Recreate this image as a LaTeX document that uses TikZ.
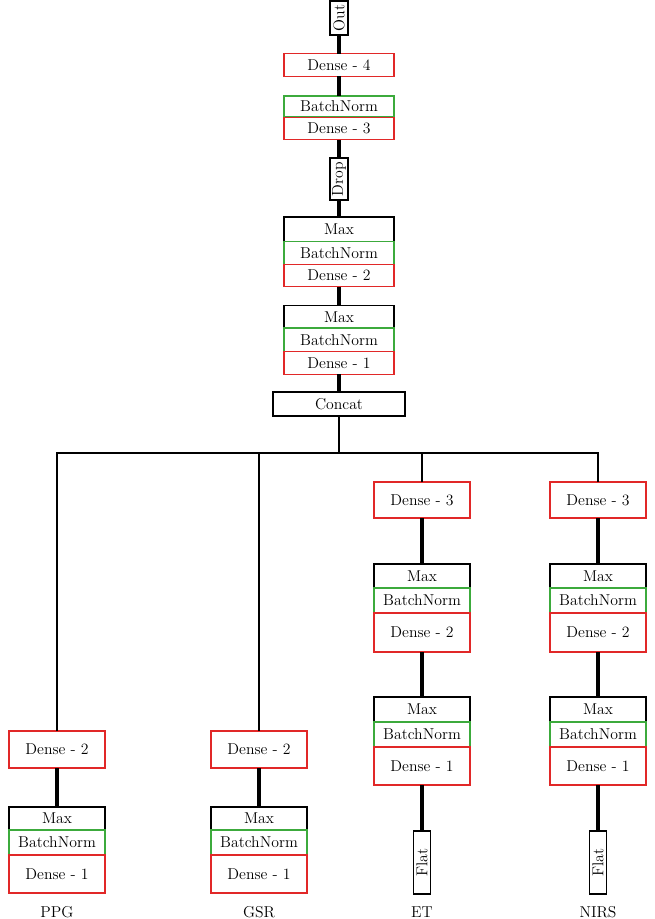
\documentclass[tikz,border=0pt]{standalone}
\usepackage{xcolor,tikz}
\usetikzlibrary{positioning}
\definecolor{dnred}{RGB}{225,40,40}
\definecolor{bngreen}{RGB}{60,170,60}
\tikzset{b/.style={draw=black,fill=white,line width=.9pt,inner sep=0pt,outer sep=0pt,font=\fontsize{11.8}{13}\selectfont},
 mx/.style={b},bn/.style={b,draw=bngreen},dn/.style={b,draw=dnred},
 v/.style={b,rotate=90,minimum height=13.5pt},
 top/.style={minimum width=82.5pt,minimum height=17pt},
 br/.style={minimum width=72pt},
 lbl/.style={font=\fontsize{11.8}{13}\selectfont},
 flow/.style={line width=3pt},wire/.style={line width=1.1pt}}
\begin{document}
\begin{tikzpicture}[x=.75pt,y=-.75pt]
\useasboundingbox (0,0) rectangle (654,919);
\node[v,minimum width=25.5pt](out) at (339,18){Out};
\node[dn,top](d4) at (339,65){Dense - 4};
\node[bn,top,minimum height=15.75pt](bn3) at (339,106.5){BatchNorm};
\node[dn,top](d3) at (339,128.5){Dense - 3};
\node[v,minimum width=31.5pt](drop) at (339,179){Drop};
\node[mx,top,minimum height=18.75pt](mx2) at (339,229.5){Max};
\node[bn,top](bn2) at (339,253){BatchNorm};
\node[dn,top](d2) at (339,275.5){Dense - 2};
\node[mx,top](mx1) at (339,317){Max};
\node[bn,top,minimum height=18pt](bn1) at (339,340){BatchNorm};
\node[dn,top](d1) at (339,363){Dense - 1};
\node[mx,minimum width=99pt,minimum height=18pt](cc) at (339,404){Concat};
\draw[flow](out)--(d4);\draw[flow](d4)--(bn3);\draw[flow](d3)--(drop);
\draw[flow](drop)--(mx2);\draw[flow](d2)--(mx1);\draw[flow](d1)--(cc);
\coordinate(jn) at (339,453);
\node[dn,br,minimum height=27.75pt](pd2) at (57,749.5){Dense - 2};
\node[mx,br,minimum height=17.25pt](pmx) at (57,818.5){Max};
\node[bn,br,minimum height=18.75pt](pbn) at (57,842.5){BatchNorm};
\node[dn,br,minimum height=28.5pt](pd1) at (57,874){Dense - 1};
\draw[flow](pd2)--(pmx);
\node[lbl](lppg) at (57,912){PPG};
\node[dn,br,minimum height=27.75pt](gd2) at (259,749.5){Dense - 2};
\node[mx,br,minimum height=17.25pt](gmx) at (259,818.5){Max};
\node[bn,br,minimum height=18.75pt](gbn) at (259,842.5){BatchNorm};
\node[dn,br,minimum height=28.5pt](gd1) at (259,874){Dense - 1};
\draw[flow](gd2)--(gmx);
\node[lbl](lgsr) at (259,912){GSR};
\node[dn,br,minimum height=27pt](ed3) at (422,500){Dense - 3};
\node[mx,br,minimum height=18pt](emx2) at (422,576){Max};
\node[bn,br,minimum height=18.75pt](ebn2) at (422,600.5){BatchNorm};
\node[dn,br,minimum height=29.25pt](ed2) at (422,632.5){Dense - 2};
\node[mx,br,minimum height=18.75pt](emx1) at (422,709.5){Max};
\node[bn,br,minimum height=18.75pt](ebn1) at (422,734.5){BatchNorm};
\node[dn,br,minimum height=28.5pt](ed1) at (422,766){Dense - 1};
\node[v,minimum width=47.25pt,minimum height=12.75pt](efl) at (422,862.5){Flat};
\draw[flow](ed3)--(emx2);\draw[flow](ed2)--(emx1);\draw[flow](ed1)--(efl);
\node[lbl](let) at (422,912){ET};
\node[dn,br,minimum height=27pt](nd3) at (598,500){Dense - 3};
\node[mx,br,minimum height=18pt](nmx2) at (598,576){Max};
\node[bn,br,minimum height=18.75pt](nbn2) at (598,600.5){BatchNorm};
\node[dn,br,minimum height=29.25pt](nd2) at (598,632.5){Dense - 2};
\node[mx,br,minimum height=18.75pt](nmx1) at (598,709.5){Max};
\node[bn,br,minimum height=18.75pt](nbn1) at (598,734.5){BatchNorm};
\node[dn,br,minimum height=28.5pt](nd1) at (598,766){Dense - 1};
\node[v,minimum width=47.25pt,minimum height=12.75pt](nfl) at (598,862.5){Flat};
\draw[flow](nd3)--(nmx2);\draw[flow](nd2)--(nmx1);\draw[flow](nd1)--(nfl);
\node[lbl](lnirs) at (598,912){NIRS};
\draw[wire](cc)--(jn);
\draw[wire](pd2.north)|-(jn)-|(nd3.north);
\draw[wire](gd2.north)--(gd2.north|-jn);\draw[wire](ed3.north)--(ed3.north|-jn);
\end{tikzpicture}
\end{document}
